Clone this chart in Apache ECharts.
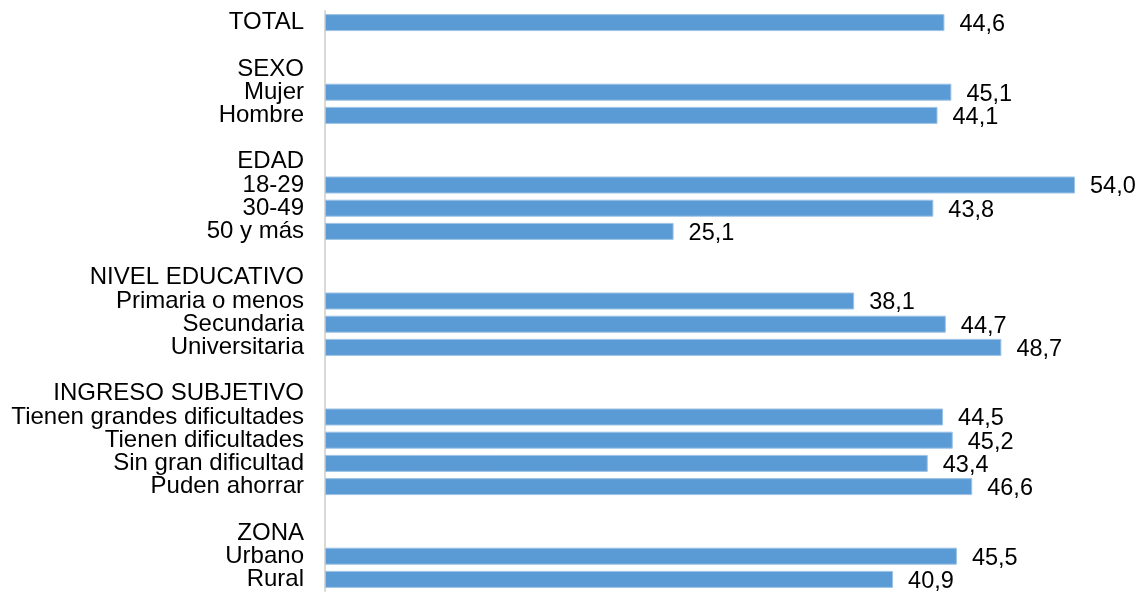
<!DOCTYPE html>
<html>
<head>
<meta charset="utf-8">
<script src="https://cdn.jsdelivr.net/npm/echarts@6/dist/echarts.min.js"></script>
<style>html,body{margin:0;padding:0;background:#fff}#c{width:1145px;height:592px}</style>
</head>
<body>
<div id="c"></div>
<script>
const categories = ["TOTAL","","SEXO","Mujer","Hombre","","EDAD","18-29","30-49","50 y más","","NIVEL EDUCATIVO","Primaria o menos","Secundaria","Universitaria","","INGRESO SUBJETIVO","Tienen grandes dificultades","Tienen dificultades","Sin gran dificultad","Puden ahorrar","","ZONA","Urbano","Rural"];
const values = [44.6,null,null,45.1,44.1,null,null,54.0,43.8,25.1,null,null,38.1,44.7,48.7,null,null,44.5,45.2,43.4,46.6,null,null,45.5,40.9];
const FONT = '"Liberation Sans", Arial, sans-serif';
const chart = echarts.init(document.getElementById('c'));
chart.setOption({
  animation:false,
  textStyle:{fontFamily:FONT},
  grid:{left:325,right:70,top:11,bottom:1,containLabel:false},
  xAxis:{type:'value',min:0,max:54,show:false},
  yAxis:{type:'category',inverse:true,data:categories,
    axisLine:{show:true,lineStyle:{color:'#d9d9d9',width:2}},
    axisTick:{show:false},
    axisLabel:{interval:0,color:'#000',fontSize:24,margin:21,padding:[3,0,0,0],fontFamily:FONT}},
  series:[{type:'bar',data:values,barWidth:17,
    itemStyle:{color:'#5B9BD5',borderColor:'#9dc3e6',borderWidth:1},
    label:{show:true,position:'right',distance:15,offset:[0,2],color:'#000',fontSize:23.5,fontFamily:FONT,
      formatter:p=>p.value==null?'':p.value.toFixed(1).replace('.',',')}}]
});
</script>
</body>
</html>
